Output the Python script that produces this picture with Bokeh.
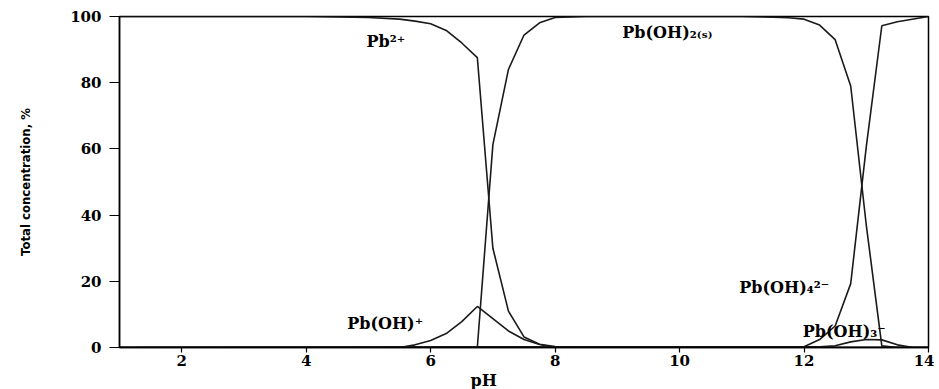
from bokeh.plotting import figure
from bokeh.models import Label, Range1d, FixedTicker, Title
from bokeh.embed import file_html
from bokeh.resources import INLINE

# ---- data ----
ph_pb2 = [1, 4, 4.5, 5, 5.5, 5.75, 6, 6.25, 6.5, 6.75, 7, 7.25, 7.5, 7.75, 8, 9, 14]
pb2 = [100, 100, 99.9, 99.7, 99.2, 98.6, 97.8, 95.8, 92.0, 87.6, 30.0, 11.0, 3.2, 1.0, 0.3, 0, 0]

ph_pboh = [1, 5.5, 5.75, 6, 6.25, 6.5, 6.75, 7, 7.25, 7.5, 7.75, 8, 14]
pboh = [0, 0, 0.8, 2.1, 4.2, 7.8, 12.4, 8.7, 5.0, 2.4, 0.9, 0, 0]

ph_pboh2 = [1, 6.75, 7, 7.25, 7.5, 7.75, 8, 8.5, 9, 11, 11.5, 11.75, 12, 12.25, 12.5, 12.75, 13, 13.25, 13.5, 14]
pboh2 = [0, 0, 61.3, 84.0, 94.4, 98.1, 99.7, 100, 100, 100, 99.8, 99.6, 99.2, 97.4, 93.0, 79.0, 37.0, 0.5, 0, 0]

ph_pboh4 = [1, 12, 12.25, 12.5, 12.75, 13, 13.25, 13.5, 14]
pboh4 = [0, 0.2, 2.4, 6.5, 19.3, 60.6, 97.2, 98.4, 100]

ph_pboh3 = [1, 12.25, 12.5, 12.75, 13, 13.25, 13.5, 13.75, 14]
pboh3 = [0, 0.2, 0.5, 1.7, 2.4, 2.3, 0.8, 0, 0]

species_labels = ["Pb²⁺", "Pb(OH)₂₍ₛ₎", "Pb(OH)⁺", "Pb(OH)₄²⁻", "Pb(OH)₃⁻"]
label_x = [4.97, 9.08, 4.66, 10.96, 11.98]
label_y = [92.5, 95.1, 7.3, 18.2, 4.8]

x_ticks = [2, 4, 6, 8, 10, 12, 14]
y_ticks = [0, 20, 40, 60, 80, 100]

SERIF = "DejaVu Serif"

p = figure(width=934, height=389, output_backend="svg", toolbar_location=None,
           x_range=Range1d(1, 14), y_range=Range1d(0, 100),
           min_border_left=119, min_border_right=6, min_border_top=16, min_border_bottom=42)

p.background_fill_color = "white"
p.border_fill_color = "white"
p.outline_line_color = "black"
p.outline_line_width = 1.5
p.xgrid.visible = False
p.ygrid.visible = False

lc = "#1a1a1a"
for xs, ys in [(ph_pb2, pb2), (ph_pboh, pboh), (ph_pboh2, pboh2), (ph_pboh4, pboh4), (ph_pboh3, pboh3)]:
    p.line(xs, ys, line_color=lc, line_width=1.6)

# axes
p.xaxis.ticker = FixedTicker(ticks=x_ticks)
p.yaxis.ticker = FixedTicker(ticks=y_ticks)
for ax in (p.xaxis[0], p.yaxis[0]):
    ax.axis_line_color = "black"
    ax.axis_line_width = 1.5
    ax.major_tick_line_color = "black"
    ax.major_tick_line_width = 1.2
    ax.minor_tick_line_color = None
    ax.major_tick_in = 0
    ax.major_label_text_font = SERIF
    ax.major_label_text_font_style = "bold"
    ax.major_label_text_font_size = "15px"
    ax.major_label_text_color = "black"

p.xaxis.major_tick_out = 5
p.xaxis.major_label_standoff = 2
p.yaxis.major_tick_out = 10
p.yaxis.major_label_standoff = 8

p.yaxis.axis_label = "Total concentration, %"
p.yaxis.axis_label_text_font = "Liberation Sans Narrow, DejaVu Sans Condensed, sans-serif"
p.yaxis.axis_label_text_font_style = "bold"
p.yaxis.axis_label_text_font_size = "13px"
p.yaxis.axis_label_text_color = "black"
p.yaxis.axis_label_standoff = 34

# species labels
for t, lx, ly in zip(species_labels, label_x, label_y):
    p.add_layout(Label(x=lx, y=ly, text=t, text_font=SERIF, text_font_style="bold",
                       text_font_size="16px", text_color="black",
                       text_align="left", text_baseline="middle"))

# x axis title (placed off-centre, as in the reference)
p.add_layout(Title(text="pH", align="left", offset=351, standoff=0,
                   text_font=SERIF, text_font_style="bold",
                   text_font_size="16px", text_color="black"), "below")

open("out.html", "w").write(file_html(p, INLINE))
